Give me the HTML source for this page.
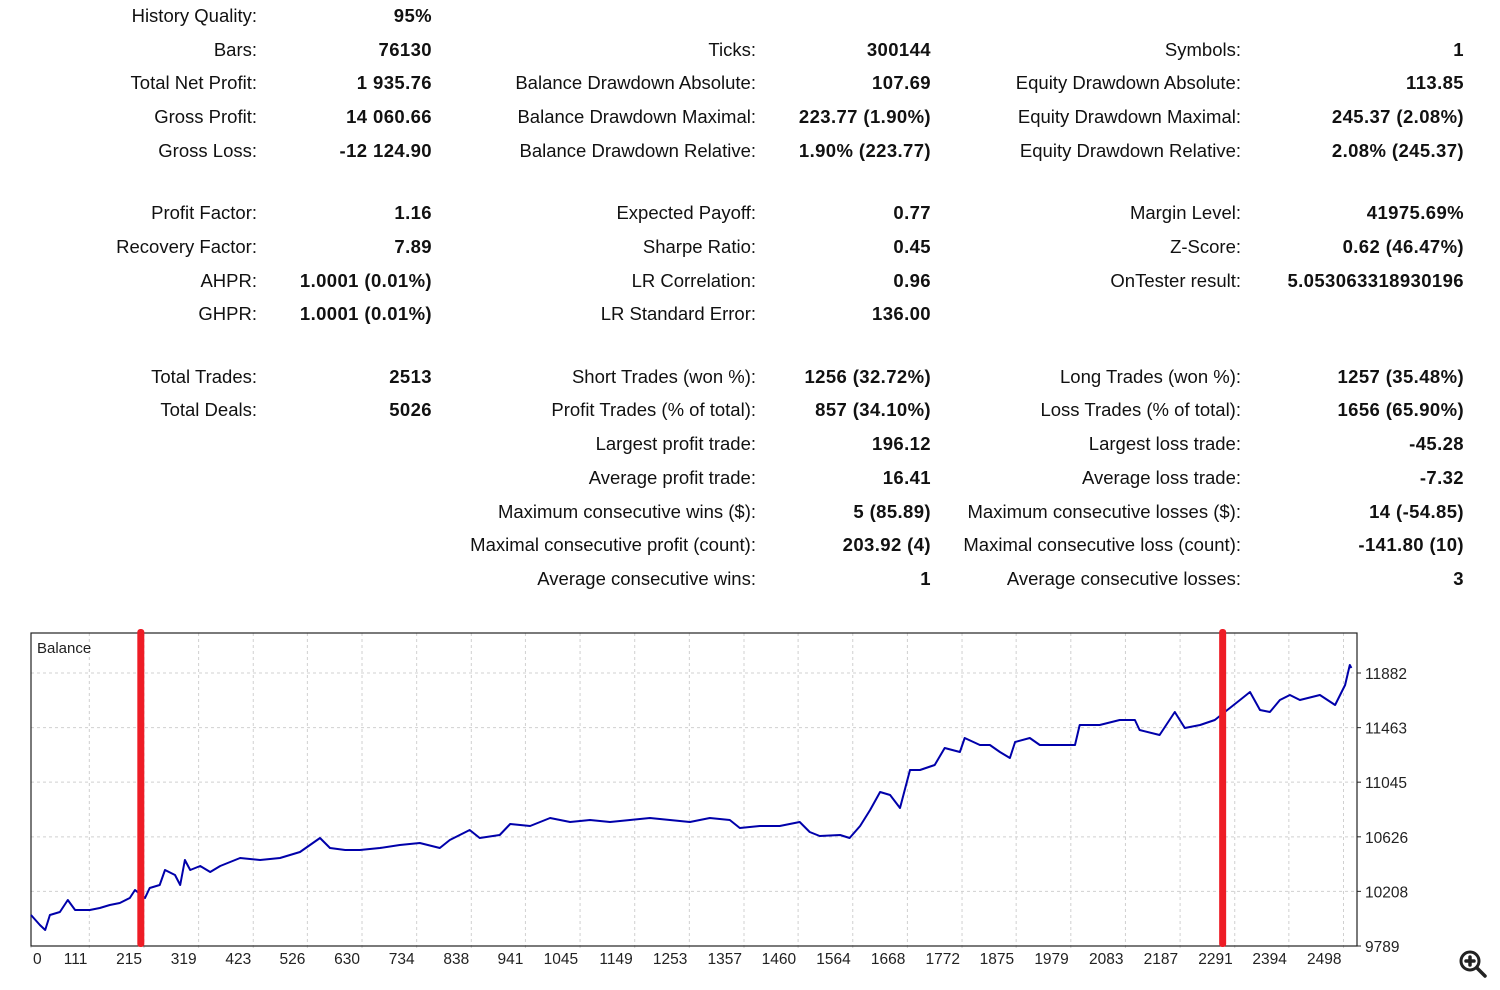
<!DOCTYPE html>
<html><head><meta charset="utf-8">
<style>
html,body{margin:0;padding:0;background:#fff;}
body{width:1500px;height:990px;position:relative;overflow:hidden;font-family:"Liberation Sans",sans-serif;color:#111;}
.l,.v{position:absolute;font-size:18.5px;white-space:nowrap;line-height:20px;text-align:right;}
.v{font-weight:bold;letter-spacing:0.4px;}
</style></head>
<body>
<div id="stats"></div>
<svg id="chart" width="1500" height="990" style="position:absolute;left:0;top:0"></svg>
<script>
const rows=[
["History Quality:","95%",16,0],["Bars:","76130",50,0],["Total Net Profit:","1 935.76",83,0],["Gross Profit:","14 060.66",117,0],["Gross Loss:","-12 124.90",151,0],
["Profit Factor:","1.16",213,0],["Recovery Factor:","7.89",247,0],["AHPR:","1.0001 (0.01%)",281,0],["GHPR:","1.0001 (0.01%)",314,0],
["Total Trades:","2513",377,0],["Total Deals:","5026",410,0],
["Ticks:","300144",50,1],["Balance Drawdown Absolute:","107.69",83,1],["Balance Drawdown Maximal:","223.77 (1.90%)",117,1],["Balance Drawdown Relative:","1.90% (223.77)",151,1],
["Expected Payoff:","0.77",213,1],["Sharpe Ratio:","0.45",247,1],["LR Correlation:","0.96",281,1],["LR Standard Error:","136.00",314,1],
["Short Trades (won %):","1256 (32.72%)",377,1],["Profit Trades (% of total):","857 (34.10%)",410,1],["Largest profit trade:","196.12",444,1],["Average profit trade:","16.41",478,1],["Maximum consecutive wins ($):","5 (85.89)",512,1],["Maximal consecutive profit (count):","203.92 (4)",545,1],["Average consecutive wins:","1",579,1],
["Symbols:","1",50,2],["Equity Drawdown Absolute:","113.85",83,2],["Equity Drawdown Maximal:","245.37 (2.08%)",117,2],["Equity Drawdown Relative:","2.08% (245.37)",151,2],
["Margin Level:","41975.69%",213,2],["Z-Score:","0.62 (46.47%)",247,2],["OnTester result:","5.053063318930196",281,2],
["Long Trades (won %):","1257 (35.48%)",377,2],["Loss Trades (% of total):","1656 (65.90%)",410,2],["Largest loss trade:","-45.28",444,2],["Average loss trade:","-7.32",478,2],["Maximum consecutive losses ($):","14 (-54.85)",512,2],["Maximal consecutive loss (count):","-141.80 (10)",545,2],["Average consecutive losses:","3",579,2]
];
const labelR=[257,756,1241], valR=[432,931,1464];
const st=document.getElementById('stats');
rows.forEach(r=>{
  const l=document.createElement('div');l.className='l';l.textContent=r[0];
  
  
  l.style.right=(1500-labelR[r[3]])+'px';l.style.top=(r[2]-10)+'px';st.appendChild(l);
  const v=document.createElement('div');v.className='v';v.textContent=r[1];
  
  
  v.style.right=(1500-valR[r[3]])+'px';v.style.top=(r[2]-10)+'px';st.appendChild(v);
});
</script>
<script>
const tradeIdx=[0,17,27,36,55,70,84,112,131,150,169,188,198,217,226,245,255,274,284,293,303,322,341,360,398,436,474,512,531,550,569,598,626,664,702,740,778,797,835,854,892,912,950,988,1026,1064,1102,1140,1178,1216,1254,1292,1330,1349,1387,1425,1463,1482,1501,1540,1558,1578,1597,1616,1635,1654,1673,1692,1720,1739,1768,1777,1806,1825,1844,1863,1873,1901,1920,1958,1987,1996,2034,2072,2101,2110,2148,2177,2196,2225,2253,2272,2301,2320,2339,2358,2377,2396,2415,2453,2482,2501,2510,2513];
const balance=[10027,9950,9912,10027,10050,10142,10065,10065,10080,10103,10119,10157,10218,10157,10234,10257,10372,10333,10257,10448,10372,10402,10356,10402,10464,10448,10464,10510,10563,10617,10540,10525,10525,10540,10563,10579,10540,10602,10678,10617,10640,10724,10709,10770,10740,10755,10740,10755,10770,10755,10740,10770,10755,10694,10709,10709,10740,10663,10632,10640,10617,10709,10832,10970,10947,10847,11138,11138,11177,11307,11276,11384,11330,11330,11276,11230,11353,11384,11330,11330,11330,11483,11483,11522,11522,11445,11407,11583,11460,11483,11522,11583,11675,11736,11598,11583,11675,11713,11675,11713,11637,11790,11943,11920];
const xTicks=[0,111,215,319,423,526,630,734,838,941,1045,1149,1253,1357,1460,1564,1668,1772,1875,1979,2083,2187,2291,2394,2498];
const yTicks=[9789,10208,10626,11045,11463,11882];
const markers=[209,2268];

const L=31,T=633,R=1357,B=946;
const X=i=>L+i*(1343.5-L)/2498;
const Y=v=>B-(v-9789)*(B-673)/(11882-9789);
const ns='http://www.w3.org/2000/svg';
const svg=document.getElementById('chart');
function mk(t,a){const e=document.createElementNS(ns,t);for(const k in a)e.setAttribute(k,a[k]);svg.appendChild(e);return e;}
xTicks.forEach(t=>{
  const g=mk('line',{x1:X(t),x2:X(t),y1:T,y2:B+4,stroke:'#d0d0d0','stroke-dasharray':'3,3'});
  
  
  const tx=mk('text',{x:t===0?33:X(t)-2,y:B+18,'text-anchor':t===0?'start':'end','font-size':15.5,fill:'#222','font-family':'Liberation Sans, sans-serif'});
  tx.textContent=t;
  
  
});
yTicks.forEach(t=>{
  if(t>9789){const g=mk('line',{x1:L,x2:R,y1:Y(t),y2:Y(t),stroke:'#d0d0d0','stroke-dasharray':'3,3'});
  
  }
  mk('line',{x1:R,x2:R+4,y1:Y(t),y2:Y(t),stroke:'#222'});
  const tx=mk('text',{x:R+8,y:Y(t)+6,'font-size':15.5,fill:'#222','font-family':'Liberation Sans, sans-serif'});
  tx.textContent=t;
  
  
});
const fr=mk('rect',{x:L,y:T,width:R-L,height:B-T,fill:'none',stroke:'#222','stroke-width':1.2});


const ttl=mk('text',{x:37,y:653,'font-size':15,fill:'#222','font-family':'Liberation Sans, sans-serif'});
ttl.textContent='Balance';


let d='';
tradeIdx.forEach((t,k)=>{d+=(k?'L':'M')+X(t).toFixed(1)+','+Y(balance[k]).toFixed(1);});
const p=mk('path',{d:d,fill:'none',stroke:'#0000aa','stroke-width':2,'stroke-linejoin':'round'});


markers.forEach(m=>{
  const r=mk('rect',{x:X(m)-3.5,y:629,width:7,height:318,rx:3,fill:'#ee1c25'});
  
  
});
const zg=mk('g',{});


const c=document.createElementNS(ns,'circle');c.setAttribute('cx',1470);c.setAttribute('cy',961);c.setAttribute('r',9);c.setAttribute('fill','none');c.setAttribute('stroke','#222');c.setAttribute('stroke-width',3);zg.appendChild(c);
const h=document.createElementNS(ns,'path');h.setAttribute('d','M1477,968 L1485,976 M1466,961 H1474 M1470,957 V965');h.setAttribute('stroke','#222');h.setAttribute('stroke-width',3.5);h.setAttribute('stroke-linecap','round');zg.appendChild(h);
</script>
</body></html>
